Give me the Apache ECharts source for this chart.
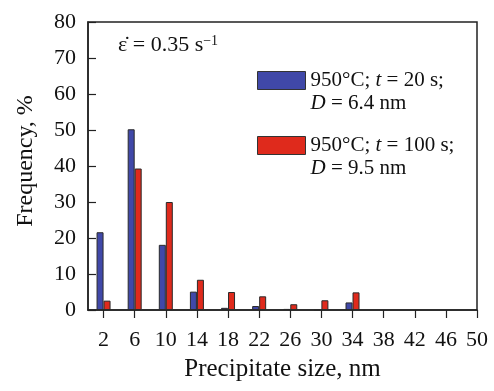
<!DOCTYPE html>
<html>
<head>
<meta charset="utf-8">
<script src="https://cdn.jsdelivr.net/npm/echarts@6/dist/echarts.min.js"></script>
<style>html,body{margin:0;padding:0;background:#fff;}#c{width:494px;height:391px;}</style>
</head>
<body>
<div id="c"></div>
<script>
const sizes = [2, 6, 10, 14, 18, 22, 26, 30, 34];
const freq20s = [21.6, 50.2, 18.1, 5.1, 0.6, 1.1, 0.3, 0, 2.1];
const freq100s = [2.6, 39.3, 30.0, 8.4, 5.0, 3.8, 1.6, 2.7, 4.9];
const xTickLabels = [2, 6, 10, 14, 18, 22, 26, 30, 34, 38, 42, 46, 50];
const seriesNames = ['950°C; t = 20 s; D = 6.4 nm', '950°C; t = 100 s; D = 9.5 nm'];
const legendLines = [
  '950°C; {i|t} = 20 s;\n{i|D} = 6.4 nm',
  '950°C; {i|t} = 100 s;\n{i|D} = 9.5 nm'
];

const FONT = 'Liberation Serif';
const chart = echarts.init(document.getElementById('c'));
const pairs = (ys) => sizes.map((x, i) => [x, ys[i]]);

chart.setOption({
  animation: false,
  textStyle: { fontFamily: FONT, color: '#111' },
  grid: { left: 88, right: 17, top: 22, bottom: 81, show: true, borderColor: '#222', borderWidth: 1.5, backgroundColor: 'transparent' },
  xAxis: {
    type: 'value', min: 0, max: 50,
    name: 'Precipitate size, nm', nameLocation: 'middle', nameGap: 47,
    nameTextStyle: { fontFamily: FONT, fontSize: 25, color: '#111' },
    axisLine: { lineStyle: { color: '#222', width: 1.5 } },
    axisTick: { show: true, inside: false, length: 8, customValues: xTickLabels, lineStyle: { color: '#222', width: 1.2 } },
    axisLabel: { customValues: xTickLabels, margin: 19, fontFamily: FONT, fontSize: 22, color: '#111' },
    splitLine: { show: false }
  },
  yAxis: {
    type: 'value', min: 0, max: 80, interval: 10,
    axisLine: { show: true, lineStyle: { color: '#222', width: 1.5 } },
    axisTick: { show: true, inside: true, length: 8, lineStyle: { color: '#222', width: 1.2 } },
    axisLabel: { margin: 12, fontFamily: FONT, fontSize: 22, color: '#111' },
    splitLine: { show: false }
  },
  legend: {
    orient: 'vertical', left: 252, top: 41,
    itemWidth: 48, itemHeight: 18, itemGap: -4,
    icon: 'rect',
    data: seriesNames,
    formatter: (name) => legendLines[seriesNames.indexOf(name)],
    textStyle: {
      fontFamily: FONT, fontSize: 21, color: '#111', lineHeight: 23,
      padding: [23, 0, 0, 0],
      rich: { i: { fontFamily: FONT, fontSize: 21, fontStyle: 'italic', lineHeight: 23, color: '#111' } }
    },
    itemStyle: { borderColor: '#333', borderWidth: 1 }
  },
  graphic: [
    {
      type: 'text', left: 118, top: 34,
      style: {
        text: 'ε̇ = 0.35 s{sup|−1}',
        font: '22px "Liberation Serif"', fill: '#111',
        rich: { sup: { fontSize: 14, fontFamily: FONT, verticalAlign: 'top', padding: [0, 0, 9, 0], fill: '#111' } }
      }
    },
    {
      type: 'text', x: 26, y: 161, rotation: Math.PI / 2,
      style: { text: 'Frequency, %', font: '24px "Liberation Serif"', fill: '#111', align: 'center', verticalAlign: 'middle' }
    }
  ],
  series: [
    {
      name: seriesNames[0], type: 'bar', data: pairs(freq20s),
      barWidth: 7, barGap: '0%',
      itemStyle: { color: '#4048a8', borderColor: '#2a2a2a', borderWidth: 1 }
    },
    {
      name: seriesNames[1], type: 'bar', data: pairs(freq100s),
      barWidth: 7, barGap: '0%',
      itemStyle: { color: '#df2a1c', borderColor: '#2a2a2a', borderWidth: 1 }
    }
  ]
});
</script>
</body>
</html>
